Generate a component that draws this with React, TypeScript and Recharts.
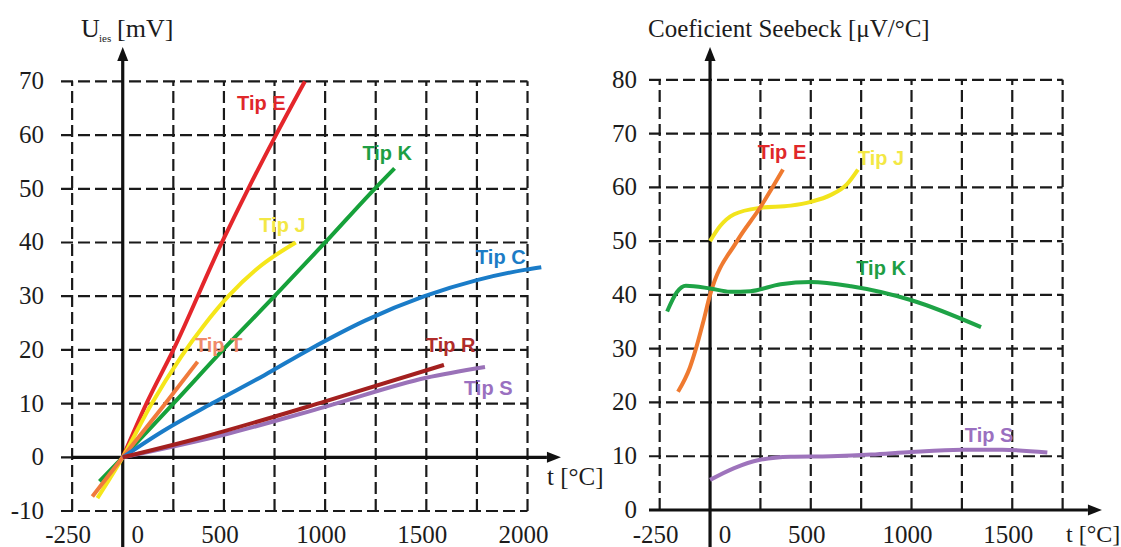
import React from "react";
import { LineChart, Line, XAxis, YAxis, ReferenceLine, ReferenceDot } from "recharts";

// ---- left chart: thermo-EMF U [mV] vs t [°C] ----
const leftYTicks = [-10, 0, 10, 20, 30, 40, 50, 60, 70];
const leftXTicks = [-250, 0, 500, 1000, 1500, 2000];
const leftXGrid = [-250, 250, 500, 750, 1000, 1250, 1500, 1750, 2000];

const tipE = [[0, 0], [117, 10], [250, 20], [490, 40], [620, 50], [757, 60], [900, 70]];
const tipJ = [[-125, -7.6], [0, 0], [140, 9.8], [290, 18.8], [400, 24.5], [522, 30], [670, 35.3], [855, 40]];
const tipT = [[-150, -7.3], [0, 0], [200, 9.5], [370, 17.8]];
const tipK = [[-115, -4.5], [0, 0], [250, 10], [495, 20], [750, 30], [1000, 40], [1245, 50], [1343, 53.8]];
const tipC = [[0, 0], [200, 4.9], [440, 10], [700, 15.3], [918, 20], [1200, 25.5], [1491, 30], [1750, 33], [1985, 34.9], [2068, 35.4]];
const tipR = [[0, 0], [380, 3.6], [1000, 10.4], [1587, 17.2]];
const tipS = [[0, 0], [500, 4.2], [1000, 9.4], [1500, 14.8], [1790, 16.8]];

const leftNames = [
  { text: "Tip E", t: 685, v: 66, color: "#e0282a" },
  { text: "Tip J", t: 789, v: 43.3, color: "#f3e845" },
  { text: "Tip K", t: 1307, v: 56.7, color: "#1e9e44" },
  { text: "Tip C", t: 1868, v: 37.3, color: "#1c7cc6" },
  { text: "Tip T", t: 474, v: 20.9, color: "#f08a6a" },
  { text: "Tip R", t: 1620, v: 20.9, color: "#b02c2a" },
  { text: "Tip S", t: 1806, v: 12.9, color: "#9a70c0" },
];

// ---- right chart: Seebeck coefficient [µV/°C] vs t [°C] ----
const rightYTicks = [0, 10, 20, 30, 40, 50, 60, 70, 80];
const rightXTicks = [-250, 0, 500, 1000, 1500];
const rightXGrid = [-250, 250, 500, 750, 1000, 1250, 1500, 1750];

const seebeckE = [[-159, 22], [-100, 26.5], [-70, 30], [-35, 34.8], [0, 40], [134, 50], [248, 56.2], [362, 63.3]];
const seebeckJ = [[0, 50], [50, 52.8], [120, 55], [250, 56.2], [400, 56.6], [500, 57.3], [600, 58.6], [680, 60.6], [734, 63.3]];
const seebeckK = [[-213, 36.9], [-165, 40.5], [-120, 41.7], [0, 41.2], [100, 40.6], [200, 40.7], [350, 42], [500, 42.4], [700, 41.6], [1000, 39], [1345, 34]];
const seebeckS = [[0, 5.6], [120, 7.8], [243, 9.3], [400, 9.9], [600, 10], [800, 10.3], [1000, 10.8], [1250, 11.2], [1450, 11.2], [1674, 10.7]];

const rightNames = [
  { text: "Tip E", t: 357, v: 66.6, color: "#e0282a" },
  { text: "Tip J", t: 849, v: 65.5, color: "#f3e845" },
  { text: "Tip K", t: 849, v: 45, color: "#1e9e44" },
  { text: "Tip S", t: 1385, v: 14, color: "#9a70c0" },
];

const pts = (a: number[][]) => a.map(([t, v]) => ({ t, v }));

const serif = "'Liberation Serif', 'Times New Roman', serif";
const sans = "'Liberation Sans', Arial, sans-serif";
const ink = "#1c1c1c";
const gridStroke = { stroke: "#1a1a1a", strokeWidth: 2.2, strokeDasharray: "12 5" };

function arrowShape(p: any) {
  const { x1, y1, x2, y2 } = p;
  const a = Math.atan2(y2 - y1, x2 - x1);
  const len = 14, half = 5.5;
  const bx = x2 - len * Math.cos(a), by = y2 - len * Math.sin(a);
  const tri = `${x2},${y2} ${bx - half * Math.sin(a)},${by + half * Math.cos(a)} ${bx + half * Math.sin(a)},${by - half * Math.cos(a)}`;
  return (
    <g>
      <line x1={x1} y1={y1} x2={bx} y2={by} stroke="#111" strokeWidth={3.2} />
      <polygon points={tri} fill="#111" />
    </g>
  );
}

const makeXTick = (dy: number) => (props: any) => {
  const { x, y, payload } = props;
  const shift = payload.value === 0 ? 15 : -4;
  return (
    <text x={x + shift} y={y + dy} textAnchor="middle" fontSize={25} style={{ fontFamily: serif }} fill={ink}>
      {payload.value}
    </text>
  );
};

const YTick = (props: any) => {
  const { x, y, payload } = props;
  return (
    <text x={x} y={y} dy={8} textAnchor="end" fontSize={25} style={{ fontFamily: serif }} fill={ink}>
      {payload.value}
    </text>
  );
};

function LeftChart() {
  const xMin = -305;
  return (
    <LineChart width={600} height={547} margin={{ top: 47, right: 32, left: 0, bottom: 0 }}>
      <XAxis type="number" dataKey="t" domain={[xMin, 2200]} allowDataOverflow ticks={leftXTicks} interval={0}
        axisLine={false} tickLine={false} tickSize={0} tickMargin={0} height={36} tick={makeXTick(32)} />
      <YAxis type="number" domain={[-10, 76.4]} allowDataOverflow ticks={leftYTicks} interval={0}
        axisLine={false} tickLine={false} tickSize={0} tickMargin={17} width={61} tick={YTick} />
      {leftYTicks.map((v) => (
        <ReferenceLine key={"h" + v} segment={[{ x: xMin, y: v }, { x: 2000, y: v }]} {...gridStroke} />
      ))}
      {leftXGrid.map((t) => (
        <ReferenceLine key={"v" + t} segment={[{ x: t, y: -10 }, { x: t, y: 70 }]} {...gridStroke} />
      ))}
      <ReferenceLine segment={[{ x: -250, y: 0 }, { x: 2165, y: 0 }]} ifOverflow="visible" shape={arrowShape} />
      <ReferenceLine segment={[{ x: 0, y: -17 }, { x: 0, y: 76.4 }]} ifOverflow="visible" shape={arrowShape} />
      <Line data={pts(tipE)} dataKey="v" type="monotone" stroke="#e4262b" strokeWidth={4} dot={false} isAnimationActive={false} />
      <Line data={pts(tipK)} dataKey="v" type="monotone" stroke="#16a13a" strokeWidth={4} dot={false} isAnimationActive={false} />
      <Line data={pts(tipJ)} dataKey="v" type="monotone" stroke="#f5e61a" strokeWidth={4} dot={false} isAnimationActive={false} />
      <Line data={pts(tipT)} dataKey="v" type="monotone" stroke="#f07a3c" strokeWidth={4} dot={false} isAnimationActive={false} />
      <Line data={pts(tipC)} dataKey="v" type="monotone" stroke="#1a7cc8" strokeWidth={4} dot={false} isAnimationActive={false} />
      <Line data={pts(tipS)} dataKey="v" type="monotone" stroke="#9a72b8" strokeWidth={4} dot={false} isAnimationActive={false} />
      <Line data={pts(tipR)} dataKey="v" type="monotone" stroke="#a3201f" strokeWidth={4} dot={false} isAnimationActive={false} />
      {leftNames.map((n) => (
        <ReferenceDot key={n.text} x={n.t} y={n.v} r={0} fill="none" stroke="none"
          label={{ value: n.text, position: "center", fill: n.color, fontSize: 20, fontWeight: 700, fontFamily: sans }} />
      ))}
    </LineChart>
  );
}

function RightChart() {
  const xMin = -303;
  return (
    <LineChart width={561} height={547} margin={{ top: 47, right: 8, left: 0, bottom: 0 }}>
      <XAxis type="number" dataKey="t" domain={[xMin, 2000]} allowDataOverflow ticks={rightXTicks} interval={0}
        axisLine={false} tickLine={false} tickSize={0} tickMargin={0} height={37} tick={makeXTick(33)} />
      <YAxis type="number" domain={[0, 86.1]} allowDataOverflow ticks={rightYTicks} interval={0}
        axisLine={false} tickLine={false} tickSize={0} tickMargin={12} width={89} tick={YTick} />
      {rightYTicks.filter((v) => v !== 0).map((v) => (
        <ReferenceLine key={"h" + v} segment={[{ x: xMin, y: v }, { x: 1750, y: v }]} {...gridStroke} />
      ))}
      {rightXGrid.map((t) => (
        <ReferenceLine key={"v" + t} segment={[{ x: t, y: 0 }, { x: t, y: 80 }]} {...gridStroke} />
      ))}
      <ReferenceLine segment={[{ x: xMin, y: 0 }, { x: 1945, y: 0 }]} ifOverflow="visible" shape={arrowShape} />
      <ReferenceLine segment={[{ x: 0, y: -7 }, { x: 0, y: 86.1 }]} ifOverflow="visible" shape={arrowShape} />
      <Line data={pts(seebeckJ)} dataKey="v" type="monotone" stroke="#f2e41c" strokeWidth={4} dot={false} isAnimationActive={false} />
      <Line data={pts(seebeckE)} dataKey="v" type="monotone" stroke="#ef7a30" strokeWidth={4} dot={false} isAnimationActive={false} />
      <Line data={pts(seebeckK)} dataKey="v" type="monotone" stroke="#1ea346" strokeWidth={4} dot={false} isAnimationActive={false} />
      <Line data={pts(seebeckS)} dataKey="v" type="monotone" stroke="#9e74bc" strokeWidth={4} dot={false} isAnimationActive={false} />
      {rightNames.map((n) => (
        <ReferenceDot key={n.text} x={n.t} y={n.v} r={0} fill="none" stroke="none"
          label={{ value: n.text, position: "center", fill: n.color, fontSize: 20, fontWeight: 700, fontFamily: sans }} />
      ))}
    </LineChart>
  );
}

export default function App() {
  return (
    <div style={{ position: "absolute", left: 0, top: 0, width: 1121, height: 547, background: "#fff", overflow: "hidden" }}>
      <div style={{ position: "absolute", left: 0, top: 0 }}>
        <LeftChart />
      </div>
      <div style={{ position: "absolute", left: 560, top: 0 }}>
        <RightChart />
      </div>
      <svg width={1121} height={547} style={{ position: "absolute", left: 0, top: 0, pointerEvents: "none" }}>
        <g style={{ fontFamily: serif }} fill={ink}>
          <text x={81} y={37} fontSize={26}>U</text>
          <text x={99} y={42} fontSize={11}>ies</text>
          <text x={117} y={37} fontSize={26}>[mV]</text>
          <text x={648} y={37} fontSize={25}>Coeficient Seebeck [μV/°C]</text>
          <text x={547} y={485} fontSize={25}>t [°C]</text>
          <text x={1066} y={542} fontSize={24}>t [°C]</text>
        </g>
      </svg>
    </div>
  );
}
